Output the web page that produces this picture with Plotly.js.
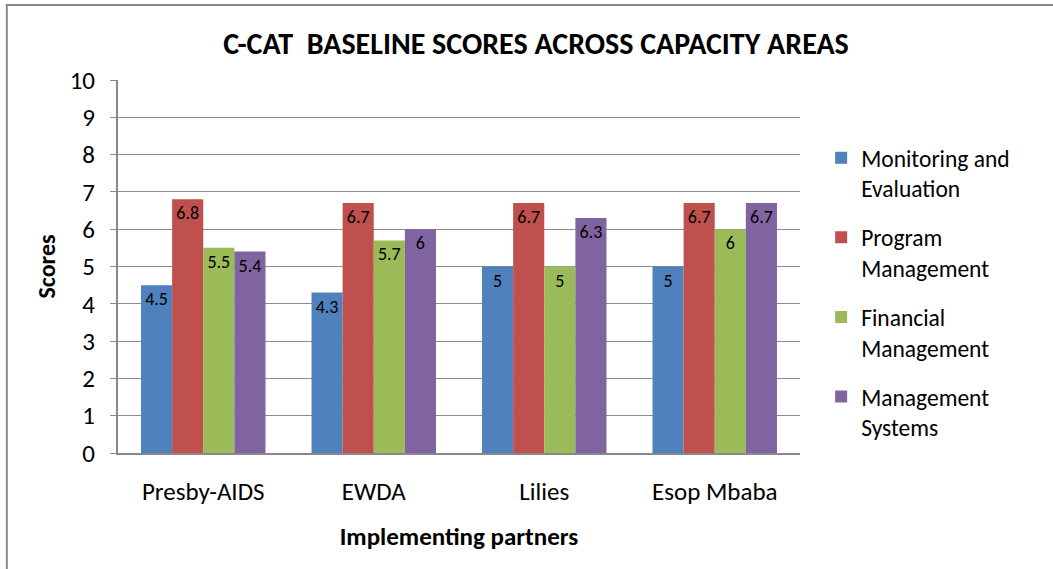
<!DOCTYPE html>
<html>
<head>
<meta charset="utf-8">
<script src="https://cdn.plot.ly/plotly-3.0.1.min.js"></script>
<style>html,body{margin:0;padding:0;background:#fff;}#chart{width:1053px;height:569px;}</style>
</head>
<body>
<div id="chart"></div>
<script>
const partners = ["Presby-AIDS", "EWDA", "Lilies", "Esop Mbaba"];
const seriesNames = ["Monitoring and<br>Evaluation", "Program<br>Management", "Financial<br>Management", "Management<br>Systems"];
const monitoringEvaluation = [4.5, 4.3, 5, 5];
const programManagement = [6.8, 6.7, 6.7, 6.7];
const financialManagement = [5.5, 5.7, 5, 6];
const managementSystems = [5.4, 6, 6.3, 6.7];
const colors = ["#4F81BD", "#C0504D", "#9BBB59", "#8064A2"];
const allSeries = [monitoringEvaluation, programManagement, financialManagement, managementSystems];

const FONT = "Carlito, 'Liberation Sans Narrow', 'Open Sans', sans-serif";

const traces = allSeries.map((vals, i) => ({
  type: "bar",
  name: seriesNames[i],
  x: partners,
  y: vals,
  legendgroup: "g" + i,
  marker: {color: colors[i]},
  text: vals.map(v => String(v)),
  textposition: "inside",
  insidetextanchor: "end",
  textangle: 0,
  constraintext: "none",
  textfont: {family: FONT, size: 18, color: "#000"},
  hoverinfo: "x+y"
}));

const layout = {
  width: 1053, height: 569,
  margin: {l: 118, r: 253, t: 80, b: 116},
  paper_bgcolor: "#fff", plot_bgcolor: "#fff",
  font: {family: FONT, color: "#000"},
  barmode: "group", bargap: 0.27, bargroupgap: 0,
  uniformtext: {mode: "show", minsize: 18},
  title: {text: "<b>C-CAT  BASELINE SCORES ACROSS CAPACITY AREAS</b>", font: {family: FONT, size: 30, color: "#000"}, x: 0.509, xref: "container", xanchor: "center", y: 0.923, yanchor: "middle"},
  xaxis: {
    title: {text: "<b>Implementing partners</b>", font: {family: FONT, size: 25}, standoff: 21},
    showline: true, linecolor: "#888", linewidth: 2,
    tickfont: {family: FONT, size: 25}, ticks: "", ticklabelstandoff: 15
  },
  yaxis: {
    title: {text: "<b>Scores</b>", font: {family: FONT, size: 24}, standoff: 7},
    range: [0, 10], dtick: 1, showgrid: true, gridcolor: "#8c8c8c", gridwidth: 1,
    showline: true, linecolor: "#888", linewidth: 2,
    ticks: "outside", ticklen: 6, tickcolor: "#888", tickwidth: 1,
    tickfont: {family: FONT, size: 25}, zeroline: false, ticklabelstandoff: 10
  },
  legend: {x: 1.031, xanchor: "left", y: 0.85, yanchor: "top", valign: "top", font: {family: FONT, size: 23.5}, tracegroupgap: 15.5, itemwidth: 20, bgcolor: "rgba(0,0,0,0)"},
  showlegend: true,
  shapes: [{type: "rect", xref: "paper", yref: "paper", x0: -0.163, x1: 1.39, y0: -0.35, y1: 1.201, line: {color: "#8a8a8a", width: 2}, fillcolor: "rgba(0,0,0,0)", layer: "below"}]
};

Plotly.newPlot("chart", traces, layout, {displayModeBar: false, responsive: false});
</script>
</body>
</html>
